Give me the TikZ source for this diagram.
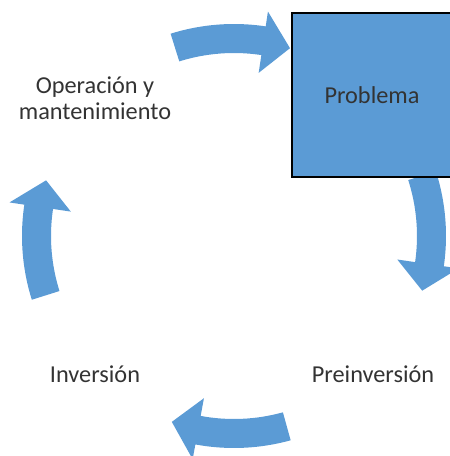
\documentclass[tikz,border=0pt]{standalone}
\usepackage{fontspec}
\setmainfont{Carlito}
\definecolor{cycleblue}{RGB}{91,155,213}
\usetikzlibrary{positioning}

\begin{document}
\begin{tikzpicture}[
    x=1pt, y=1pt,
    every node/.style={font=\fontsize{24.3}{26}\selectfont, text=black!80},
    box/.style={draw, line width=2pt, fill=cycleblue, minimum width=160pt, minimum height=164pt},
    cyclearrow/.style={fill=cycleblue}
  ]
  \useasboundingbox (0,0) rectangle (450,456);
  \coordinate (cyc) at (234,220);

  % curved block arrows around the cycle
  \foreach \a in {107.4,17.8,-74.5,-162.5} {
    \fill[cyclearrow, shift={(cyc)}] (\a:212pt) arc[start angle=\a, end angle=\a-26, radius=212pt]
      -- (\a-26:227pt) -- (\a-34:196pt) -- (\a-26:165pt) -- (\a-26:183pt)
      arc[start angle=\a-26, end angle=\a, radius=183pt] -- cycle;
  }

  \node[box] (prob) at (372,361) {Problema};
  \node[anchor=base] (pre) at (373,73) {Preinversión};
  \node[anchor=base] (inv) at (95,73) {Inversión};
  \node[align=center] (ope) at (95,358) {Operación y\\mantenimiento};
\end{tikzpicture}
\end{document}
